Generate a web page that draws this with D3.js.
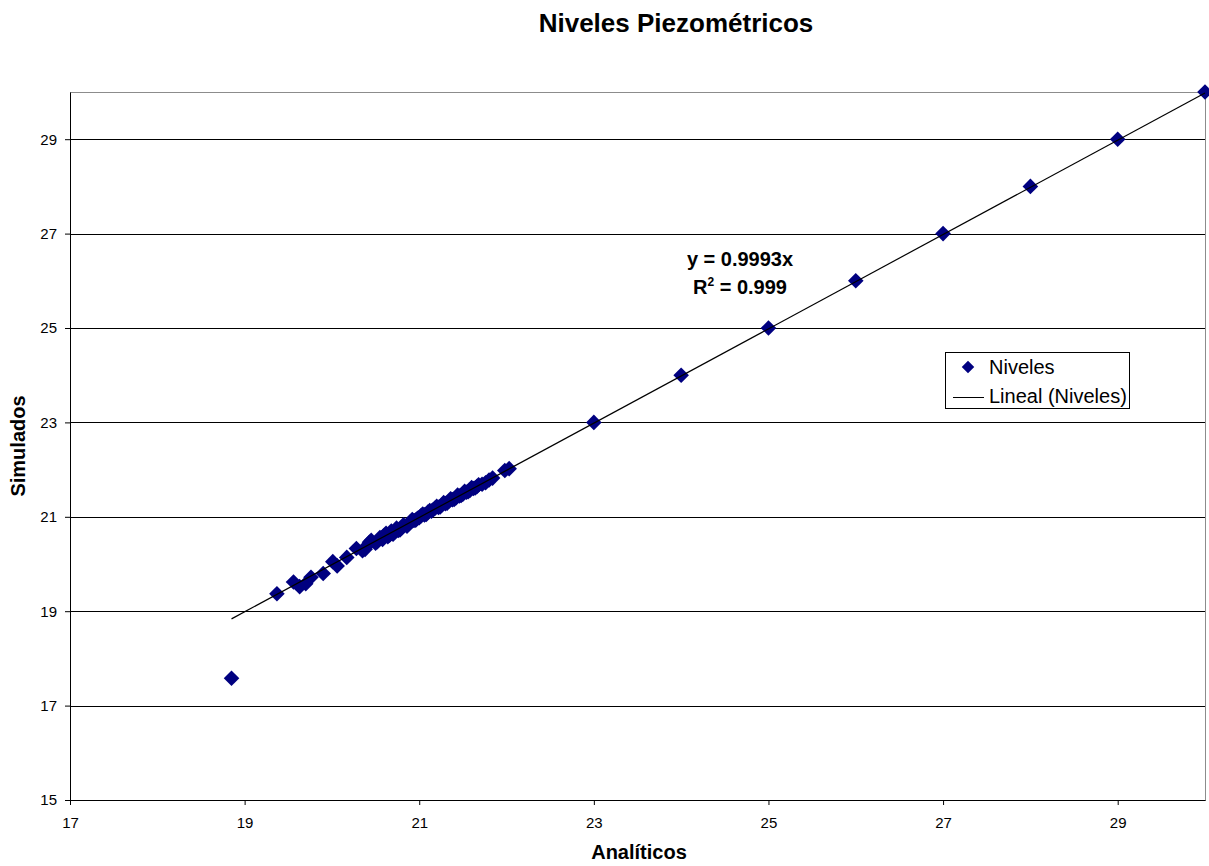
<!DOCTYPE html>
<html>
<head>
<meta charset="utf-8">
<script src="https://cdn.jsdelivr.net/npm/d3@7"></script>
<style>
  body { margin: 0; background: #fff; }
  svg { display: block; font-family: "Liberation Sans", Arial, sans-serif; }
</style>
</head>
<body>
<svg id="chart" width="1209" height="866"></svg>
<script>
// ---- Data ----
const analiticos = [18.85, 19.37, 19.56, 19.63, 19.70, 19.76, 19.90, 20.01, 20.06, 20.17,
  20.28, 20.35, 20.40, 20.45, 20.50, 20.55, 20.58, 20.62, 20.64, 20.68, 20.70, 20.74,
  20.78, 20.82, 20.86, 20.90, 20.94, 20.98, 21.02, 21.06, 21.10, 21.14, 21.18, 21.22,
  21.26, 21.30, 21.34, 21.38, 21.42, 21.46, 21.50, 21.54, 21.58, 21.62, 21.66, 21.76,
  21.80, 21.84, 21.98, 22.03,
  20.38, 20.43, 20.52, 20.60, 20.66, 20.72, 20.76, 20.80, 20.88, 20.92, 20.96, 21.00,
  21.04, 21.08, 21.12, 21.16, 21.20, 21.24, 21.28, 21.32, 21.36, 21.40, 21.44, 21.48,
  21.52, 21.56, 21.60, 21.64, 21.68, 21.72,
  23, 24, 25, 26, 27, 28, 29, 30];
const simulados = [17.58, 19.37, 19.62, 19.52, 19.58, 19.72, 19.80, 20.05, 19.96, 20.14,
  20.33, 20.28, 20.38, 20.50, 20.44, 20.56, 20.52, 20.65, 20.58, 20.70, 20.63, 20.76,
  20.72, 20.83, 20.80, 20.90, 20.92, 20.97, 21.02, 21.04, 21.10, 21.12, 21.18, 21.20,
  21.25, 21.28, 21.33, 21.36, 21.40, 21.44, 21.48, 21.52, 21.56, 21.60, 21.64, 21.72,
  21.78, 21.82, 21.98, 22.02,
  20.31, 20.46, 20.47, 20.61, 20.61, 20.68, 20.71, 20.77, 20.85, 20.94, 20.93, 20.98,
  21.06, 21.05, 21.13, 21.15, 21.22, 21.21, 21.30, 21.29, 21.38, 21.37, 21.46, 21.45,
  21.54, 21.53, 21.62, 21.61, 21.68, 21.69,
  23, 24, 25, 26, 27, 28, 29, 30];
const slope = 0.9993;
const r2 = "0.999";
const xTicks = [17, 19, 21, 23, 25, 27, 29];
const yTicks = [15, 17, 19, 21, 23, 25, 27, 29];
const xDomain = [17, 30];
const yDomain = [15, 30];
const title = "Niveles Piezométricos";
const xTitle = "Analíticos";
const yTitle = "Simulados";
const seriesName = "Niveles";
const trendName = "Lineal (Niveles)";

// ---- Layout ----
const svg = d3.select("#chart");
const L = 70, R = 1205, T = 92, B = 800;
const x = d3.scaleLinear().domain(xDomain).range([L, R]);
const y = d3.scaleLinear().domain(yDomain).range([B, T]);
const navy = "#000080";

// plot border (top/right gray)
svg.append("rect").attr("x", L).attr("y", T).attr("width", R - L).attr("height", B - T)
  .attr("fill", "#fff").attr("stroke", "#8c8c8c").attr("stroke-width", 1)
  .attr("shape-rendering", "crispEdges");

// gridlines
svg.append("g").selectAll("line").data(yTicks.filter(d => d > yDomain[0])).join("line")
  .attr("x1", L).attr("x2", R).attr("y1", d => Math.round(y(d)) + 0.5).attr("y2", d => Math.round(y(d)) + 0.5)
  .attr("stroke", "#000").attr("stroke-width", 1);

// axes
const xAxis = svg.append("g").attr("transform", `translate(0,${B})`)
  .call(d3.axisBottom(x).tickValues(xTicks).tickSize(5).tickSizeOuter(0).tickPadding(12));
const yAxis = svg.append("g").attr("transform", `translate(${L},0)`)
  .call(d3.axisLeft(y).tickValues(yTicks).tickSize(5).tickSizeOuter(0).tickPadding(8));
[xAxis, yAxis].forEach(a => {
  a.select(".domain").attr("stroke", "#000");
  a.selectAll(".tick line").attr("stroke", "#000");
  a.selectAll("text").attr("font-size", 15).attr("fill", "#000")
    .attr("font-family", "'Liberation Sans', Arial, sans-serif");
});

// points
const diamond = d3.symbol().type(d3.symbolDiamond2).size(155);
svg.append("g").selectAll("path").data(analiticos.map((d, i) => [d, simulados[i]])).join("path")
  .attr("d", diamond)
  .attr("transform", d => `translate(${x(d[0])},${y(d[1])})`)
  .attr("fill", navy);

// trend line drawn over points as in reference
svg.append("line")
  .attr("x1", x(d3.min(analiticos))).attr("y1", y(slope * d3.min(analiticos)))
  .attr("x2", x(30)).attr("y2", y(slope * 30))
  .attr("stroke", "#000").attr("stroke-width", 1.2);

// title
svg.append("text").attr("x", 676).attr("y", 32).attr("text-anchor", "middle")
  .attr("font-size", 26).attr("font-weight", "bold").text(title);
svg.append("text").attr("x", 639).attr("y", 859).attr("text-anchor", "middle")
  .attr("font-size", 20).attr("font-weight", "bold").text(xTitle);
svg.append("text").attr("transform", "translate(25,446) rotate(-90)").attr("text-anchor", "middle")
  .attr("font-size", 20).attr("font-weight", "bold").text(yTitle);

// equation
svg.append("text").attr("x", 740).attr("y", 266).attr("text-anchor", "middle")
  .attr("font-size", 20).attr("font-weight", "bold").text(`y = ${slope}x`);
const eq2 = svg.append("text").attr("x", 740).attr("y", 294).attr("text-anchor", "middle")
  .attr("font-size", 20).attr("font-weight", "bold");
eq2.append("tspan").text("R");
eq2.append("tspan").attr("dy", -8).attr("font-size", 12).text("2");
eq2.append("tspan").attr("dy", 8).text(` = ${r2}`);

// legend
const lg = svg.append("g");
lg.append("rect").attr("x", 945.5).attr("y", 352.5).attr("width", 184).attr("height", 56)
  .attr("fill", "#fff").attr("stroke", "#000").attr("stroke-width", 1);
lg.append("path").attr("d", d3.symbol().type(d3.symbolDiamond2).size(100)).attr("transform", "translate(968,367)").attr("fill", navy);
lg.append("line").attr("x1", 953).attr("x2", 984).attr("y1", 397.5).attr("y2", 397.5)
  .attr("stroke", "#000").attr("stroke-width", 1);
lg.append("text").attr("x", 989).attr("y", 374).attr("font-size", 20).text(seriesName);
lg.append("text").attr("x", 989).attr("y", 403).attr("font-size", 20).text(trendName);
</script>
</body>
</html>
